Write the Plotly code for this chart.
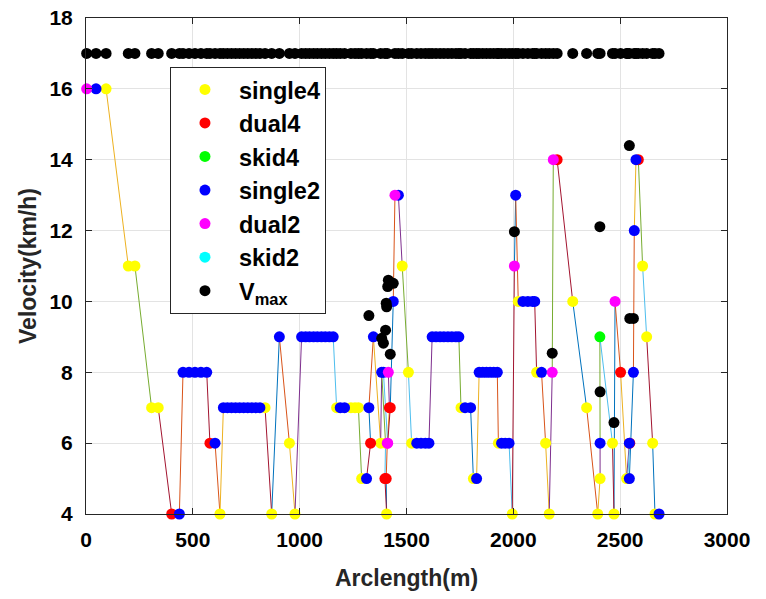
import plotly.graph_objects as go

# ---- data ----
arc_m = [
    3, 47, 94, 198, 229, 307, 338, 401, 437,
    454, 482, 510, 538, 565,
    580, 604, 627,
    643, 662, 681, 700, 719, 738, 757, 776, 795, 814, 838,
    869, 905, 952, 978,
    1009, 1028, 1046, 1065, 1083, 1102, 1120, 1139, 1157,
    1173, 1190, 1210, 1240, 1259, 1275, 1290,
    1313, 1332, 1324, 1345, 1379, 1384, 1402, 1399, 1407, 1405, 1410, 1420, 1415, 1392, 1412, 1424, 1438,
    1446, 1462, 1480, 1509, 1524,
    1548, 1568, 1588, 1605,
    1620, 1638, 1657, 1675, 1694, 1712, 1731, 1745,
    1755, 1774, 1800, 1813, 1828,
    1840, 1857, 1874, 1891, 1908, 1925,
    1930, 1945, 1962, 1980, 1995,
    2005, 2011, 2023, 2045, 2068, 2090, 2100,
    2109, 2132, 2151, 2168, 2182, 2187, 2205,
    2278, 2343, 2395, 2406, 2406, 2405, 2464, 2471, 2476, 2502,
    2530, 2543, 2545, 2535, 2543, 2562, 2566, 2574, 2585,
    2605, 2624, 2652, 2663, 2682,
]

vel_kmh = [
    16, 16, 16, 11, 11, 7, 7, 4, 4,
    8, 8, 8, 8, 8,
    6, 6, 4,
    7, 7, 7, 7, 7, 7, 7, 7, 7, 7, 7,
    4, 9, 6, 4,
    9, 9, 9, 9, 9, 9, 9, 9, 9,
    7, 7, 7, 7, 7, 7, 5,
    5, 6, 7, 9, 6, 8, 6, 5, 4, 5, 6, 7, 8, 8, 6, 7, 10,
    13, 13, 11, 8, 6,
    6, 6, 6, 6,
    9, 9, 9, 9, 9, 9, 9, 9,
    7, 7, 7, 5, 5,
    8, 8, 8, 8, 8, 8,
    6, 6, 6, 6, 4,
    11, 13, 10, 10, 10, 10, 10,
    8, 8, 6, 4, 8, 14, 14,
    10, 7, 4, 5, 6, 9, 6, 4, 10, 8,
    5, 6, 6, 5, 5, 8, 12, 14, 14,
    11, 9, 6, 4, 4,
]

kind = [
    "d2", "s2", "s4", "s4", "s4", "s4", "s4", "d4", "s2",
    "s2", "s2", "s2", "s2", "s2",
    "d4", "s2", "s4",
    "s2", "s2", "s2", "s2", "s2", "s2", "s2", "s2", "s2", "s2", "s4",
    "s4", "s2", "s4", "s4",
    "s2", "s2", "s2", "s2", "s2", "s2", "s2", "s2", "s2",
    "s4", "s2", "s2", "s4", "s4", "s4", "s4",
    "s2", "d4", "s2", "s2", "s4", "s2", "s4", "d4", "s4", "d4", "d2", "d4", "d2", "s2", "d2", "d4", "s2",
    "d2", "s2", "s4", "s4", "s4",
    "s2", "s2", "s2", "s2",
    "s2", "s2", "s2", "s2", "s2", "s2", "s2", "s2",
    "s4", "s2", "s2", "s4", "s2",
    "s2", "s2", "s2", "s2", "s2", "s2",
    "s4", "s2", "s2", "s2", "s4",
    "d2", "s2", "s4", "s2", "s2", "s2", "s2",
    "s4", "s2", "s4", "s4", "d2", "d2", "d4",
    "s4", "s4", "s4", "s4", "s2", "k4", "s4", "s4", "d2", "d4",
    "s4", "s2", "d4", "s4", "s2", "s2", "s2", "s2", "d4",
    "s4", "s4", "s4", "s4", "s2",
]

vmax_kmh = [
    17, 17, 17, 17, 17, 17, 17, 17, 17,
    17, 17, 17, 17, 17,
    17, 17, 17,
    17, 17, 17, 17, 17, 17, 17, 17, 17, 17, 17,
    17, 17, 17, 17,
    17, 17, 17, 17, 17, 17, 17, 17, 17,
    17, 17, 17, 17, 17, 17, 17,
    17, 17, 9.6, 17, 17, 8.96, 9.19, 17, 9.85, 9.95, 17, 10.51, 10.6, 8.82, 10.42, 8.51, 10.51,
    17, 17, 17, 17, 17,
    17, 17, 17, 17,
    17, 17, 17, 17, 17, 17, 17, 17,
    17, 17, 17, 17, 17,
    17, 17, 17, 17, 17, 17,
    17, 17, 17, 17, 17,
    11.97, 17, 17, 17, 17, 17, 17,
    17, 17, 17, 17, 8.54, 17, 17,
    17, 17, 17, 17, 7.45, 12.11, 17, 6.58, 17, 17,
    17, 14.4, 9.52, 17, 17, 9.52, 17, 17, 17,
    17, 17, 17, 17, 17,
]

series_codes = ["s4", "d4", "k4", "s2", "d2", "k2"]
series_names = ["single4", "dual4", "skid4", "single2", "dual2", "skid2"]
series_colors = ["#FFFF00", "#FF0000", "#00FF00", "#0000FF", "#FF00FF", "#00FFFF"]
line_cycle = ["#0072BD", "#D95319", "#EDB120", "#7E2F8E", "#77AC30", "#4DBEEE", "#A2142F"]

x_ticks = [0, 500, 1000, 1500, 2000, 2500, 3000]
y_ticks = [4, 6, 8, 10, 12, 14, 16, 18]

FONT = "Liberation Sans, Arial, sans-serif"
MS = 11

fig = go.Figure()

# connecting line segments, colour cycling like MATLAB's default order
seg_x = {c: [] for c in line_cycle}
seg_y = {c: [] for c in line_cycle}
for i in range(len(arc_m) - 1):
    c = line_cycle[i % len(line_cycle)]
    seg_x[c] += [arc_m[i], arc_m[i + 1], None]
    seg_y[c] += [vel_kmh[i], vel_kmh[i + 1], None]
for c in line_cycle:
    fig.add_trace(go.Scatter(x=seg_x[c], y=seg_y[c], mode="lines",
                             line=dict(color=c, width=1), showlegend=False,
                             hoverinfo="skip", cliponaxis=False))

# markers per vehicle type
for code, name, col in zip(series_codes, series_names, series_colors):
    xs = [a for a, k in zip(arc_m, kind) if k == code]
    ys = [v for v, k in zip(vel_kmh, kind) if k == code]
    if not xs:
        xs, ys = [None], [None]
    fig.add_trace(go.Scatter(x=xs, y=ys, mode="markers", name=name, cliponaxis=False,
                             marker=dict(color=col, size=MS, line=dict(width=0))))

fig.add_trace(go.Scatter(x=arc_m, y=vmax_kmh, mode="markers", name="V<sub>max</sub>",
                         cliponaxis=False,
                         marker=dict(color="#000000", size=MS, line=dict(width=0))))

axis_common = dict(
    showgrid=True, gridcolor="#E3E3E3", gridwidth=1,
    showline=True, linecolor="#262626", linewidth=1, mirror="ticks",
    ticks="inside", ticklen=6, tickcolor="#262626",
    zeroline=False, automargin=False, ticklabeloverflow="allow",
    tickfont=dict(family=FONT, size=21, color="#000000", weight="bold"),
)

# page body has an 8px margin, so the figure is sized/offset to compensate
fig.update_layout(
    width=750, height=583,
    margin=dict(l=78, r=31, t=10, b=77),
    paper_bgcolor="white", plot_bgcolor="white",
    font=dict(family=FONT, color="#000000"),
    xaxis=dict(range=[0, 3000], tickvals=x_ticks, ticklabelstandoff=7,
               title=dict(text="Arclength(m)", standoff=20,
                          font=dict(family=FONT, size=23, color="#262626", weight="bold")),
               **axis_common),
    yaxis=dict(range=[4, 18], tickvals=y_ticks, ticklabelstandoff=8,
               title=dict(text="Velocity(km/h)", standoff=6,
                          font=dict(family=FONT, size=23, color="#262626", weight="bold")),
               **axis_common),
    legend=dict(x=0.131, y=0.902, xanchor="left", yanchor="top",
                bgcolor="white", bordercolor="#262626", borderwidth=1,
                font=dict(family=FONT, size=23.5, color="#000000", weight="bold"),
                itemwidth=58, tracegroupgap=0),
    showlegend=True,
)

fig.write_html("out.html")
